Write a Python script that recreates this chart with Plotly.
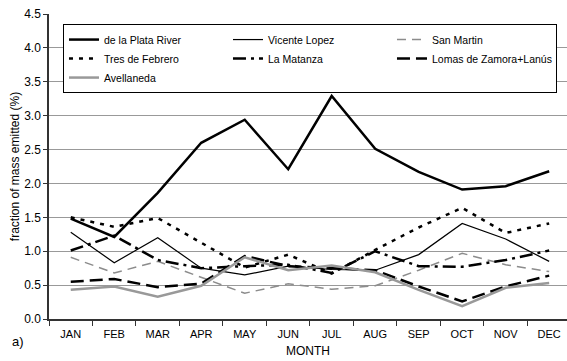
import plotly.graph_objects as go

months = ["JAN", "FEB", "MAR", "APR", "MAY", "JUN", "JUL", "AUG", "SEP", "OCT", "NOV", "DEC"]

de_la_plata = [1.48, 1.21, 1.86, 2.60, 2.94, 2.21, 3.29, 2.51, 2.17, 1.91, 1.96, 2.18]
vicente_lopez = [1.28, 0.83, 1.20, 0.75, 0.65, 0.78, 0.73, 0.72, 0.95, 1.41, 1.18, 0.85]
san_martin = [0.91, 0.68, 0.85, 0.62, 0.38, 0.52, 0.44, 0.49, 0.72, 0.97, 0.80, 0.70]
tres_de_febrero = [1.50, 1.36, 1.49, 1.12, 0.76, 0.95, 0.67, 1.02, 1.35, 1.64, 1.27, 1.41]
la_matanza = [1.01, 1.23, 0.87, 0.75, 0.78, 0.80, 0.68, 1.00, 0.78, 0.77, 0.87, 1.01]
lomas_lanus = [0.55, 0.59, 0.47, 0.52, 0.93, 0.78, 0.75, 0.72, 0.48, 0.26, 0.48, 0.64]
avellaneda = [0.43, 0.48, 0.33, 0.49, 0.91, 0.72, 0.79, 0.69, 0.43, 0.19, 0.46, 0.53]

y_ticks = [0.0, 0.5, 1.0, 1.5, 2.0, 2.5, 3.0, 3.5, 4.0, 4.5]

series = [
    ("de la Plata River", de_la_plata, dict(color="black", width=2.5, dash="solid")),
    ("Vicente Lopez", vicente_lopez, dict(color="black", width=1.2, dash="solid")),
    ("San Martin", san_martin, dict(color="#8c8c8c", width=1.5, dash="9px,6px")),
    ("Tres de Febrero", tres_de_febrero, dict(color="black", width=2.5, dash="4px,6px")),
    ("La Matanza", la_matanza, dict(color="black", width=2.5, dash="13px,5px,3px,5px")),
    ("Lomas de Zamora+Lanús", lomas_lanus, dict(color="black", width=2.5, dash="13px,6px")),
    ("Avellaneda", avellaneda, dict(color="#999999", width=2.5, dash="solid")),
]

fig = go.Figure()
for name, vals, line in series:
    fig.add_trace(go.Scatter(x=months, y=vals, mode="lines", name=name, line=line))

font_family = "Liberation Sans, Arial, sans-serif"

fig.update_layout(
    width=567,
    height=361,
    margin=dict(l=49, r=0, t=14, b=42),
    paper_bgcolor="white",
    plot_bgcolor="white",
    font=dict(family=font_family, size=11, color="black"),
    showlegend=True,
    legend=dict(
        orientation="h",
        x=0.027,
        y=0.967,
        xanchor="left",
        yanchor="top",
        bgcolor="white",
        bordercolor="black",
        borderwidth=1,
        entrywidth=119,
        entrywidthmode="pixels",
        itemwidth=30,
        tracegroupgap=0,
        font=dict(family=font_family, size=10.5, color="black"),
    ),
    xaxis=dict(
        type="category",
        categoryorder="array",
        categoryarray=months,
        range=[-0.5, 11.41],
        tickson="boundaries",
        ticks="outside",
        ticklen=5,
        tickcolor="#333333",
        showline=True,
        linecolor="#333333",
        linewidth=1.5,
        showgrid=False,
        zeroline=False,
        tickfont=dict(size=11),
        ticklabelstandoff=4,
        title=dict(text="MONTH", font=dict(size=12), standoff=8),
    ),
    yaxis=dict(
        range=[0, 4.5],
        tickvals=y_ticks,
        tickformat=".1f",
        ticks="outside",
        ticklen=4,
        tickcolor="#333333",
        showline=True,
        linecolor="#333333",
        linewidth=1.5,
        showgrid=True,
        gridcolor="#999999",
        gridwidth=1,
        zeroline=False,
        tickfont=dict(size=12),
        title=dict(text="fraction of mass emitted (%)", font=dict(size=12), standoff=2),
    ),
    annotations=[
        dict(
            text="a)",
            xref="paper",
            yref="paper",
            x=-0.075,
            y=-0.074,
            xanchor="left",
            yanchor="middle",
            showarrow=False,
            font=dict(family=font_family, size=13, color="black"),
        )
    ],
)

fig.write_html("out.html")
